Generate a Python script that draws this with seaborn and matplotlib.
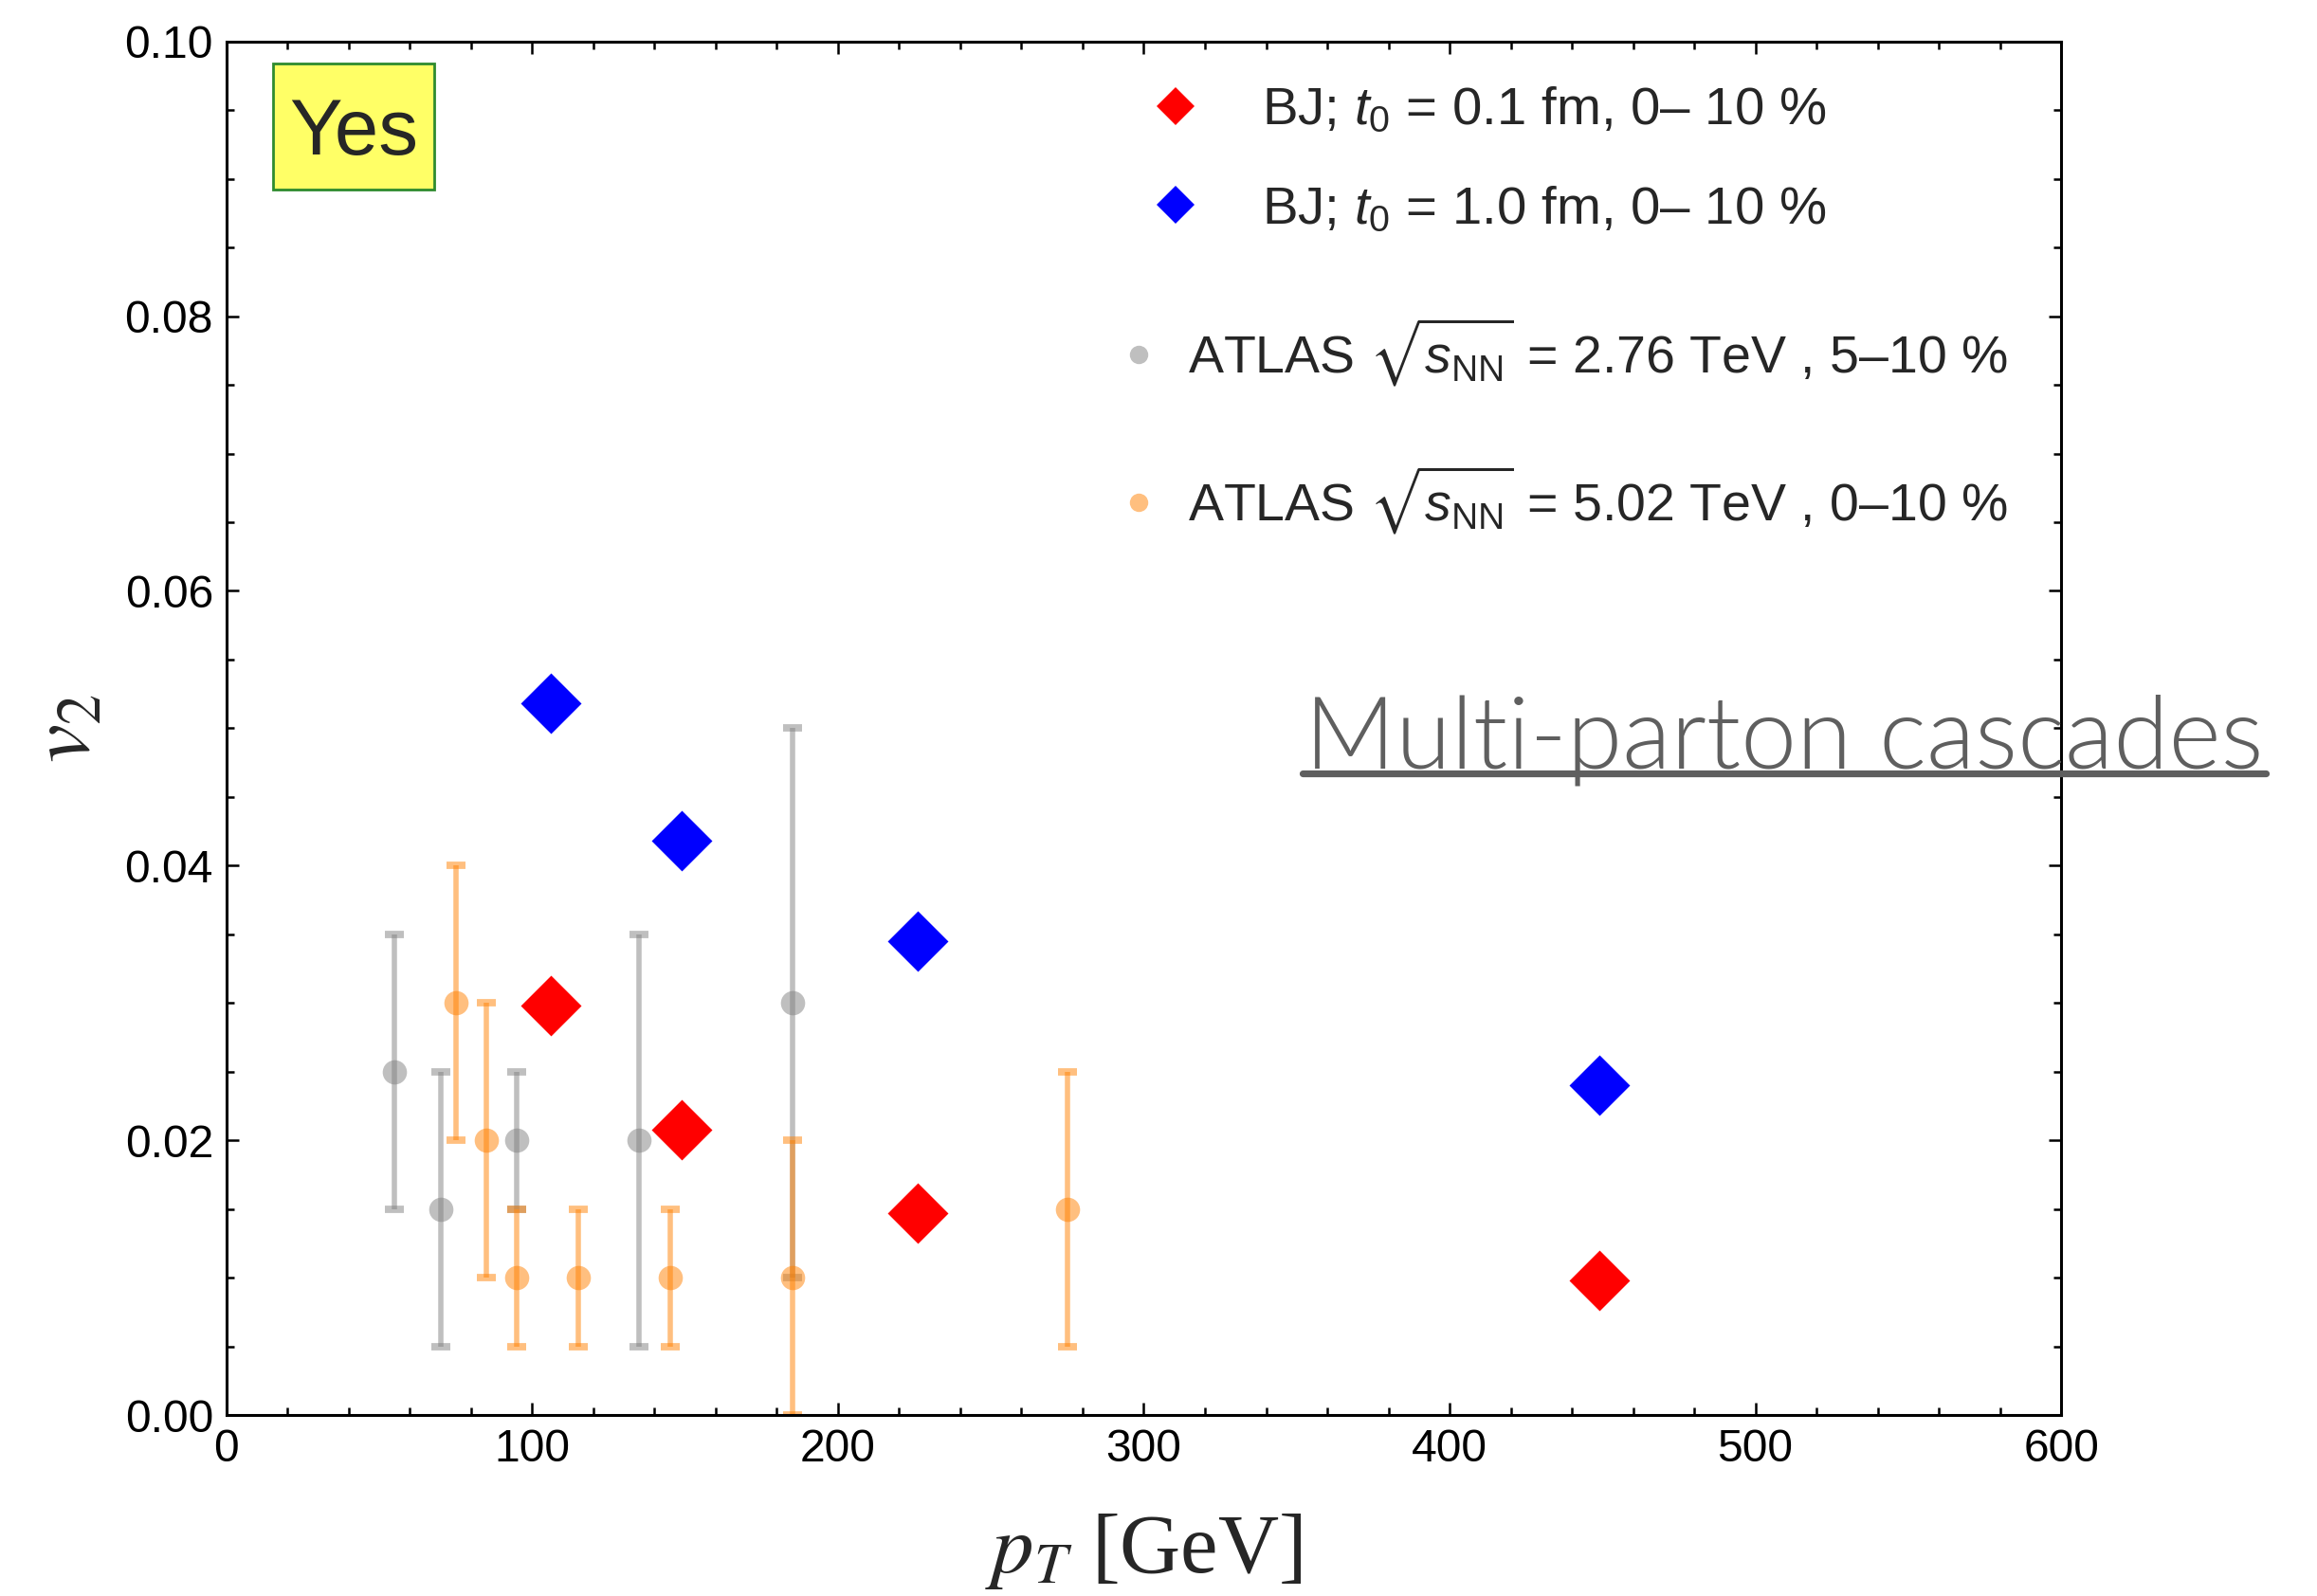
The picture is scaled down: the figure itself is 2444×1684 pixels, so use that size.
import numpy as np
import pandas as pd
import matplotlib
matplotlib.use("Agg")
import matplotlib.pyplot as plt
import seaborn as sns
from matplotlib.lines import Line2D
from matplotlib.patches import Rectangle
from matplotlib.ticker import MultipleLocator, FormatStrFormatter

# ---------------- data ----------------
bj_pt = [106, 149, 226, 449]
bj_t01_v2 = [0.0298, 0.0208, 0.0147, 0.0098]
bj_t10_v2 = [0.0518, 0.0418, 0.0345, 0.0240]

atlas276_pt = [55, 70, 95, 135, 185]
atlas276_v2 = [0.025, 0.015, 0.020, 0.020, 0.030]
atlas276_lo = [0.015, 0.005, 0.015, 0.005, 0.010]
atlas276_hi = [0.035, 0.025, 0.025, 0.035, 0.050]

atlas502_pt = [75, 85, 95, 115, 145, 185, 275]
atlas502_v2 = [0.030, 0.020, 0.010, 0.010, 0.010, 0.010, 0.015]
atlas502_lo = [0.020, 0.010, 0.005, 0.005, 0.005, 0.000, 0.005]
atlas502_hi = [0.040, 0.030, 0.015, 0.015, 0.015, 0.020, 0.025]

labels = [
    r"BJ; $t_0$ = 0.1 fm, 0– 10 %",
    r"BJ; $t_0$ = 1.0 fm, 0– 10 %",
    r"ATLAS $\sqrt{s_{\mathrm{NN}}}$ = 2.76 TeV , 5–10 %",
    r"ATLAS $\sqrt{s_{\mathrm{NN}}}$ = 5.02 TeV , 0–10 %",
]

# ---------------- style ----------------
sns.set_style("ticks")
plt.rcParams["font.family"] = ["Liberation Sans", "DejaVu Sans"]
plt.rcParams["mathtext.fontset"] = "custom"
plt.rcParams["mathtext.rm"] = "Liberation Sans"
plt.rcParams["mathtext.it"] = "Liberation Sans:italic"
plt.rcParams["mathtext.bf"] = "Liberation Sans:bold"
plt.rcParams["mathtext.fallback"] = "stix"

RED = "#FF0000"
BLUE = "#0000FF"
GREY = "#808080"
ORANGE = "#FF8000"

fig = plt.figure(figsize=(12.22, 8.42), dpi=200)
ax = fig.add_axes([0.0977, 0.1134, 0.7919, 0.8606])

df276 = pd.DataFrame({"pt": atlas276_pt, "v2": atlas276_v2,
                      "lo": atlas276_lo, "hi": atlas276_hi})
df502 = pd.DataFrame({"pt": atlas502_pt, "v2": atlas502_v2,
                      "lo": atlas502_lo, "hi": atlas502_hi})
dfbj = pd.DataFrame({"pt": bj_pt, "t01": bj_t01_v2, "t10": bj_t10_v2})

for df, col in [(df276, GREY), (df502, ORANGE)]:
    ax.errorbar(df["pt"], df["v2"],
                yerr=[df["v2"] - df["lo"], df["hi"] - df["v2"]],
                fmt="none", ecolor=col, alpha=0.5, elinewidth=2.0,
                capsize=3.6, capthick=2.8)
    sns.scatterplot(data=df, x="pt", y="v2", ax=ax, color=col, alpha=0.5,
                    s=85, linewidth=0, marker="o", zorder=3)

sns.scatterplot(data=dfbj, x="pt", y="t01", ax=ax, color=RED, marker="D",
                s=265, linewidth=0, zorder=4)
sns.scatterplot(data=dfbj, x="pt", y="t10", ax=ax, color=BLUE, marker="D",
                s=265, linewidth=0, zorder=4)

ax.set_xlim(0, 600)
ax.set_ylim(0, 0.10)
ax.xaxis.set_major_locator(MultipleLocator(100))
ax.xaxis.set_minor_locator(MultipleLocator(20))
ax.yaxis.set_major_locator(MultipleLocator(0.02))
ax.yaxis.set_minor_locator(MultipleLocator(0.005))
ax.yaxis.set_major_formatter(FormatStrFormatter("%.2f"))
ax.tick_params(which="both", direction="in", top=True, right=True,
               labelsize=17.3, width=0.9, colors="black")
ax.tick_params(which="major", length=4.8, pad=5)
ax.tick_params(which="minor", length=2.8)
for sp in ax.spines.values():
    sp.set_linewidth(1.1)
    sp.set_color("black")

ax.set_xlabel(r"$p_T$ [GeV]", fontsize=32, fontfamily="Liberation Serif",
              math_fontfamily="stix", va="center")
ax.xaxis.set_label_coords(0.5, -0.099)
ax.set_ylabel(r"$v_2$", fontsize=33, math_fontfamily="stix", va="center")
ax.yaxis.set_label_coords(-0.087, 0.5)

# legends
h1 = [Line2D([], [], ls="none", marker="D", color=RED, markersize=10, mew=0),
      Line2D([], [], ls="none", marker="D", color=BLUE, markersize=10, mew=0)]
leg1 = ax.legend(h1, labels[:2], loc="upper left",
                 bbox_to_anchor=(0.5026, 0.967), frameon=False,
                 fontsize=20.3, borderpad=0, borderaxespad=0,
                 handlelength=1.0, handletextpad=1.12, labelspacing=0.93)
ax.add_artist(leg1)
h2 = [Line2D([], [], ls="none", marker="o", color=GREY, alpha=0.5,
             markersize=7, mew=0),
      Line2D([], [], ls="none", marker="o", color=ORANGE, alpha=0.5,
             markersize=7, mew=0)]
leg2 = ax.legend(h2, labels[2:], loc="upper left",
                 bbox_to_anchor=(0.4855, 0.80), frameon=False,
                 fontsize=20, borderpad=0, borderaxespad=0,
                 handlelength=0.8, handletextpad=0.54, labelspacing=1.44)

# "Yes" box
ax.add_patch(Rectangle((0.0253, 0.892), 0.0878, 0.0918, transform=ax.transAxes,
                       facecolor="#FFFF66", edgecolor="#2E8B2E", lw=1.0,
                       zorder=5))
ax.text(0.0253 + 0.0439, 0.892 + 0.041, "Yes", transform=ax.transAxes,
        ha="center", va="center", fontsize=30, zorder=6)

# "Multi-parton cascades" annotation
mp = fig.text(0.563, 0.5185, "Multi-parton cascades", fontsize=35,
              color="#5F5F5F", fontfamily="Lato", fontweight=300,
              ha="left", va="baseline")
fig.canvas.draw()
bb = mp.get_window_extent()
target_w = 1012.0
mp.set_fontsize(35 * target_w / bb.width)
fig.add_artist(Line2D([0.562, 0.978], [0.5155, 0.5155],
                      transform=fig.transFigure, color="#5F5F5F", lw=2.6))

fig.savefig("out.png", dpi=200)
